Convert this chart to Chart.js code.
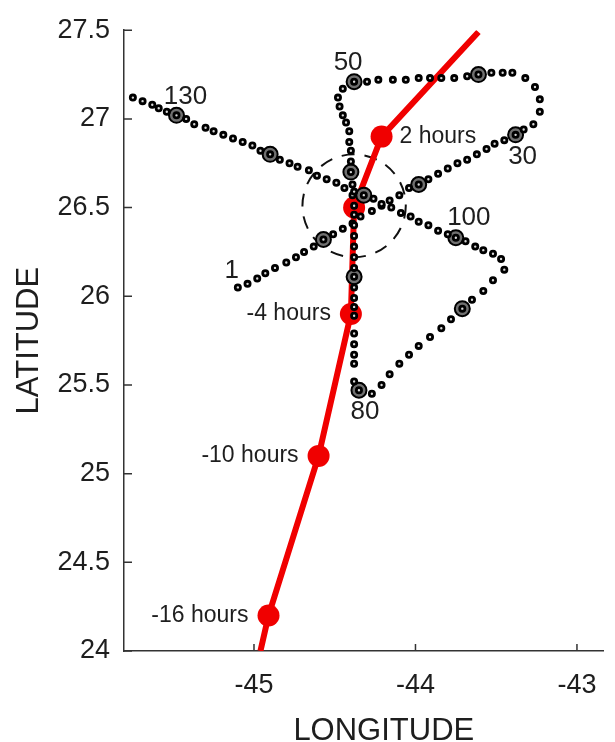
<!DOCTYPE html>
<html>
<head>
<meta charset="utf-8">
<script src="https://cdn.jsdelivr.net/npm/chart.js@4.4.1/dist/chart.umd.min.js"></script>
<style>
html, body { margin: 0; padding: 0; background: #fff; }
canvas { display: block; }
</style>
</head>
<body>
<canvas id="trackChart" width="615" height="742"></canvas>
<script>
const xTicks = [-45, -44, -43];
const yTicks = [24, 24.5, 25, 25.5, 26, 26.5, 27, 27.5];

// float positions, one dot per sample
const trackLon = [
  -45.10, -45.04, -44.98, -44.93, -44.87, -44.80, -44.74, -44.69, -44.63, -44.57,
  -44.51, -44.45, -44.39, -44.34, -44.27, -44.21, -44.16, -44.10, -44.04, -43.98,
  -43.92, -43.86, -43.80, -43.74, -43.68, -43.62, -43.56, -43.51, -43.45, -43.38,
  -43.33, -43.27, -43.23, -43.23, -43.26, -43.32, -43.40, -43.46, -43.53, -43.61,
  -43.68, -43.76, -43.84, -43.91, -43.98, -44.06, -44.14, -44.23, -44.30, -44.38,
  -44.45, -44.48, -44.47, -44.45, -44.43, -44.41, -44.41, -44.40, -44.40, -44.40,
  -44.39, -44.39, -44.38, -44.38, -44.38, -44.38, -44.38, -44.38, -44.38, -44.38,
  -44.38, -44.38, -44.38, -44.38, -44.38, -44.38, -44.38, -44.38, -44.38, -44.35,
  -44.27, -44.21, -44.16, -44.10, -44.04, -43.98, -43.91, -43.84, -43.78, -43.71,
  -43.65, -43.58, -43.52, -43.45, -43.47, -43.52, -43.58, -43.63, -43.69, -43.75,
  -43.80, -43.86, -43.92, -43.98, -44.03, -44.09, -44.15, -44.21, -44.26, -44.32,
  -44.38, -44.44, -44.49, -44.55, -44.61, -44.66, -44.73, -44.78, -44.84, -44.90,
  -44.96, -45.01, -45.07, -45.13, -45.19, -45.25, -45.30, -45.37, -45.42, -45.48,
  -45.54, -45.59, -45.63, -45.69, -45.75
];
const trackLat = [
  26.05, 26.07, 26.10, 26.13, 26.16, 26.19, 26.22, 26.25, 26.28, 26.32,
  26.35, 26.38, 26.41, 26.45, 26.48, 26.51, 26.54, 26.57, 26.61, 26.63,
  26.66, 26.69, 26.72, 26.75, 26.77, 26.80, 26.83, 26.86, 26.88, 26.91,
  26.94, 26.97, 27.04, 27.11, 27.18, 27.23, 27.26, 27.26, 27.26, 27.25,
  27.24, 27.23, 27.23, 27.23, 27.23, 27.22, 27.22, 27.22, 27.21, 27.21,
  27.17, 27.12, 27.07, 27.02, 26.98, 26.93, 26.87, 26.82, 26.76, 26.70,
  26.63, 26.57, 26.51, 26.46, 26.40, 26.34, 26.28, 26.22, 26.16, 26.11,
  26.05, 25.99, 25.94, 25.89, 25.79, 25.73, 25.67, 25.62, 25.52, 25.47,
  25.45, 25.50, 25.56, 25.62, 25.67, 25.72, 25.77, 25.82, 25.87, 25.93,
  25.98, 26.03, 26.09, 26.15, 26.21, 26.24, 26.26, 26.28, 26.31, 26.33,
  26.35, 26.37, 26.40, 26.42, 26.45, 26.47, 26.50, 26.52, 26.55, 26.57,
  26.59, 26.61, 26.64, 26.66, 26.68, 26.71, 26.73, 26.75, 26.77, 26.80,
  26.82, 26.85, 26.87, 26.89, 26.91, 26.93, 26.95, 26.97, 27.00, 27.02,
  27.04, 27.06, 27.08, 27.10, 27.12
];
const trackMarked = [10, 20, 30, 40, 50, 60, 70, 80, 90, 100, 110, 120, 130];
const trackLabels = [1, 30, 50, 80, 100, 130];

// storm centre
const stormLon = [-44.96, -44.91, -44.60, -44.40, -44.38, -44.21, -43.61];
const stormLat = [24.00, 24.20, 25.10, 25.90, 26.50, 26.90, 27.49];
const stormHours = [null, -16, -10, -4, 0, 2, null];

const circleCenter = [-44.38, 26.51];
const circleRadius = [0.32, 0.29]; // lon, lat

const FONT = '"Liberation Sans", Arial, Helvetica, sans-serif';
const TEXT = '#1e1e1e';

// label offsets in px from the dot they belong to
const labelOffset = { 1: [-6, -17], 30: [7, 22], 50: [-6, -19], 80: [6, 22], 100: [13, -20], 130: [9, -19] };

const extras = {
  id: 'extras',
  beforeDatasetsDraw(chart) {
    const { ctx, scales: { x, y } } = chart;
    const cx = x.getPixelForValue(circleCenter[0]);
    const cy = y.getPixelForValue(circleCenter[1]);
    const rx = Math.abs(x.getPixelForValue(circleCenter[0] + circleRadius[0]) - cx);
    const ry = Math.abs(y.getPixelForValue(circleCenter[1] + circleRadius[1]) - cy);
    ctx.save();
    ctx.setLineDash([13, 10]);
    ctx.lineWidth = 2;
    ctx.strokeStyle = '#111';
    ctx.beginPath();
    ctx.ellipse(cx, cy, rx, ry, 0, 0, Math.PI * 2);
    ctx.stroke();
    ctx.restore();
  },
  afterDraw(chart) {
    const { ctx, chartArea: a, scales: { x, y } } = chart;
    ctx.save();
    // matlab style ticks, pointing inwards
    ctx.strokeStyle = '#333';
    ctx.lineWidth = 1.5;
    ctx.beginPath();
    xTicks.forEach(v => {
      const px = x.getPixelForValue(v);
      ctx.moveTo(px, a.bottom);
      ctx.lineTo(px, a.bottom - 7);
    });
    yTicks.forEach(v => {
      const py = y.getPixelForValue(v);
      ctx.moveTo(a.left, py);
      ctx.lineTo(a.left + 8, py);
    });
    ctx.stroke();

    ctx.fillStyle = TEXT;
    ctx.textBaseline = 'middle';
    ctx.font = '23px ' + FONT;
    stormHours.forEach((h, i) => {
      if (h === null || h === 0) return;
      const px = x.getPixelForValue(stormLon[i]);
      const py = y.getPixelForValue(stormLat[i]);
      ctx.textAlign = h < 0 ? 'right' : 'left';
      ctx.fillText(h + ' hours', px + (h < 0 ? -20 : 18), py);
    });

    ctx.font = '26px ' + FONT;
    ctx.textAlign = 'center';
    trackLabels.forEach(n => {
      const off = labelOffset[n];
      const px = x.getPixelForValue(trackLon[n - 1]);
      const py = y.getPixelForValue(trackLat[n - 1]);
      ctx.fillText(String(n), px + off[0], py + off[1]);
    });

    // axis titles
    ctx.font = '31px ' + FONT;
    ctx.fillText('LONGITUDE', (a.left + a.right) / 2 + 20, 731);
    ctx.translate(29, (a.top + a.bottom) / 2);
    ctx.rotate(-Math.PI / 2);
    ctx.fillText('LATITUDE', 0, 0);
    ctx.restore();
  }
};

const ctx = document.getElementById('trackChart').getContext('2d');
new Chart(ctx, {
  type: 'scatter',
  data: {
    datasets: [{
      label: 'Float',
      data: trackLon.map((v, i) => ({ x: v, y: trackLat[i] })),
      showLine: false,
      pointRadius: 2.6,
      pointBorderWidth: 2.8,
      pointBackgroundColor: '#d8d8d8',
      pointBorderColor: '#000',
      order: 0
    }, {
      label: 'Every 10th',
      data: trackMarked.map(n => ({ x: trackLon[n - 1], y: trackLat[n - 1] })),
      showLine: false,
      pointRadius: 7.5,
      pointBorderWidth: 2,
      pointBackgroundColor: '#707070',
      pointBorderColor: '#000',
      order: 1
    }, {
      label: 'Storm',
      data: stormLon.map((v, i) => ({ x: v, y: stormLat[i] })),
      showLine: true,
      borderColor: '#f00000',
      borderWidth: 6,
      pointRadius: c => (c.dataIndex > 0 && c.dataIndex < stormLon.length - 1) ? 11 : 0,
      pointBackgroundColor: '#f00000',
      pointBorderWidth: 0,
      order: 2
    }]
  },
  options: {
    responsive: false,
    animation: false,
    events: [],
    layout: { padding: { top: 20, right: 4, left: 0, bottom: 0 } },
    plugins: { legend: { display: false }, tooltip: { enabled: false } },
    scales: {
      x: {
        type: 'linear',
        min: -45.805,
        max: -42.835,
        afterBuildTicks: s => { s.ticks = xTicks.map(v => ({ value: v })); },
        afterFit: s => { s.height = 91; },
        grid: { display: false, drawTicks: false },
        border: { display: true, color: '#333', width: 1.5 },
        ticks: { font: { size: 27, family: FONT }, color: TEXT, padding: 18, callback: v => String(v) }
      },
      y: {
        type: 'linear',
        min: 24,
        max: 27.5,
        afterBuildTicks: s => { s.ticks = yTicks.map(v => ({ value: v })); },
        afterFit: s => { s.width = 124; },
        grid: { display: false, drawTicks: false },
        border: { display: true, color: '#333', width: 1.5 },
        ticks: { font: { size: 27, family: FONT }, color: TEXT, padding: 14, callback: v => String(v) }
      }
    }
  },
  plugins: [extras]
});
</script>
</body>
</html>
